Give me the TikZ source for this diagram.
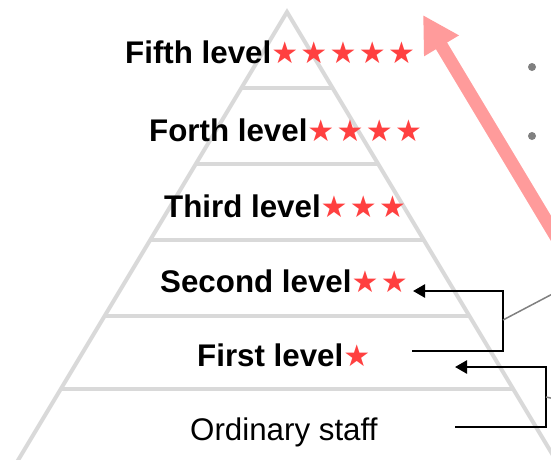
\documentclass[tikz,border=0pt]{standalone}
\usepackage{fontspec}
\setmainfont{Liberation Sans}
\newfontfamily\symfont{DejaVu Sans}
\usetikzlibrary{arrows.meta}
\definecolor{pyr}{HTML}{D9D9D9}
\definecolor{starred}{HTML}{FF4040}
\definecolor{pinkarrow}{HTML}{FF9B9B}
\definecolor{linkgray}{HTML}{808080}
\newcommand\redstar{{\color{starred}\symfont\fontsize{30}{31}\selectfont ★}\hspace{2.3pt}}
\begin{document}
\begin{tikzpicture}[x=1pt,y=-1pt,
  pyrline/.style={draw=pyr,line width=4pt},
  lvl/.style={font=\fontsize{31.3}{33}\selectfont\bfseries,inner sep=0pt,anchor=base west},
  plain/.style={font=\fontsize{31.3}{33}\selectfont,inner sep=0pt,anchor=base west},
  conn/.style={draw=black,line width=2.5pt,-{Triangle[length=12pt,width=13pt]}},
  thin/.style={draw=linkgray,line width=1.5pt},
  bigarrow/.style={draw=pinkarrow,line width=13pt,-{Triangle[length=36pt,width=38pt]}},
  bullet/.style={circle,fill=linkgray,inner sep=0pt,minimum size=8pt}]
\useasboundingbox (0,0) rectangle (551,459);
\clip (0,0) rectangle (551,459);
% pyramid
\coordinate (apex) at (287,12);
\coordinate (bl) at (11,472);
\coordinate (br) at (563,472);
\draw[pyrline,line join=miter] (bl) -- (apex) -- (br);
\foreach \yy in {88,164,240,316,389}{
  \draw[pyrline] ({287-0.6*(\yy-12)},\yy) -- ({287+0.6*(\yy-12)},\yy);
}
% labels
\node[lvl] (t5) at (125,63) {Fifth level\redstar\redstar\redstar\redstar\redstar};
\node[lvl] (t4) at (149,141) {Forth level\redstar\redstar\redstar\redstar};
\node[lvl] (t3) at (164,217) {Third level\redstar\redstar\redstar};
\node[lvl] (t2) at (160,292) {Second level\redstar\redstar};
\node[lvl] (t1) at (197,366) {First level\redstar};
\node[plain] (t0) at (190,440) {Ordinary staff};
% big arrow
\coordinate (ba0) at (570,260);
\coordinate (ba1) at (423,15);
\draw[bigarrow] (ba0) -- (ba1);
% bullets
\node[bullet] (b1) at (532,67) {};
\node[bullet] (b2) at (532,136) {};
% connectors
\coordinate (c1s) at (412,351);
\coordinate (c1e) at (413,291);
\coordinate (c1m) at (503,320);
\coordinate (c1o) at (560,290);
\draw[conn] (c1s) -- (503,351) -- (503,291) -- (c1e);
\draw[thin] (c1m) -- (c1o);
\coordinate (c2s) at (455,427);
\coordinate (c2e) at (455,367);
\coordinate (c2m) at (546,397);
\coordinate (c2o) at (560,400);
\draw[conn] (c2s) -- (546,427) -- (546,367) -- (c2e);
\draw[thin] (c2m) -- (c2o);
\end{tikzpicture}
\end{document}
